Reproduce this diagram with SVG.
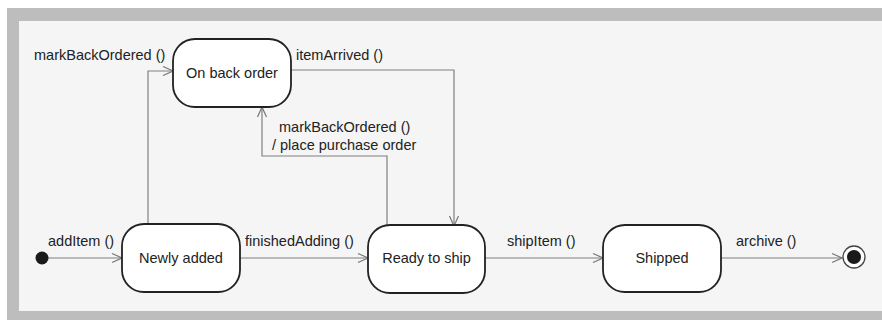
<svg xmlns="http://www.w3.org/2000/svg" width="882" height="320" viewBox="0 0 882 320">
<defs>
<marker id="open" viewBox="0 0 12 12" refX="11" refY="6" markerWidth="12" markerHeight="12" markerUnits="userSpaceOnUse" orient="auto">
<path d="M1,1.5 L11,6 L1,10.5" fill="none" stroke="#777" stroke-width="1.2"/>
</marker>
</defs>
<style>
.state{fill:#fff;stroke:#222;stroke-width:1.8}
.lbl{font-family:"Liberation Sans",Arial,sans-serif;font-size:14.5px;fill:#222}
.conn{fill:none;stroke:#808080;stroke-width:1.2}
</style>
<rect x="0" y="0" width="882" height="320" fill="#fff"/>
<rect x="7" y="8" width="875" height="312" fill="#bdbdbd"/>
<rect x="19" y="21" width="863" height="290" fill="#f5f5f5"/>
<g id="connectors">
<path class="conn" d="M48,258 L122,258" marker-end="url(#open)"/>
<path class="conn" d="M240,258 L368,258" marker-end="url(#open)"/>
<path class="conn" d="M485,258 L603,258" marker-end="url(#open)"/>
<path class="conn" d="M721,258 L842,258" marker-end="url(#open)"/>
<path class="conn" d="M148,224 L148,71 L173,71" marker-end="url(#open)"/>
<path class="conn" d="M291,70 L454,70 L454,226" marker-end="url(#open)"/>
<path class="conn" d="M387,226 L387,156 L262,156 L262,107" marker-end="url(#open)"/>
<text class="lbl" x="48" y="246">addItem ()</text>
<text class="lbl" x="245" y="246">finishedAdding ()</text>
<text class="lbl" x="507" y="246">shipItem ()</text>
<text class="lbl" x="736" y="246">archive ()</text>
<text class="lbl" x="34" y="60">markBackOrdered ()</text>
<text class="lbl" x="296" y="60">itemArrived ()</text>
<text class="lbl" x="279" y="132">markBackOrdered ()</text>
<text class="lbl" x="272" y="150">/ place purchase order</text>
</g>
<g id="initial"><circle cx="42" cy="258" r="6.5" fill="#1a1a1a"/></g>
<g id="onBackOrder"><rect class="state" x="173" y="39" width="118" height="68" rx="22"/><text class="lbl" x="232" y="78" text-anchor="middle">On back order</text></g>
<g id="newlyAdded"><rect class="state" x="122" y="224" width="118" height="68" rx="22"/><text class="lbl" x="181" y="263" text-anchor="middle">Newly added</text></g>
<g id="readyToShip"><rect class="state" x="368" y="225" width="117" height="68" rx="22"/><text class="lbl" x="426.5" y="263" text-anchor="middle">Ready to ship</text></g>
<g id="shipped"><rect class="state" x="603" y="225" width="118" height="67" rx="22"/><text class="lbl" x="662" y="263" text-anchor="middle">Shipped</text></g>
<g id="final"><circle cx="854" cy="257" r="11" fill="#fff" stroke="#444" stroke-width="1.3"/><circle cx="854" cy="257" r="7" fill="#1a1a1a"/></g>
</svg>
